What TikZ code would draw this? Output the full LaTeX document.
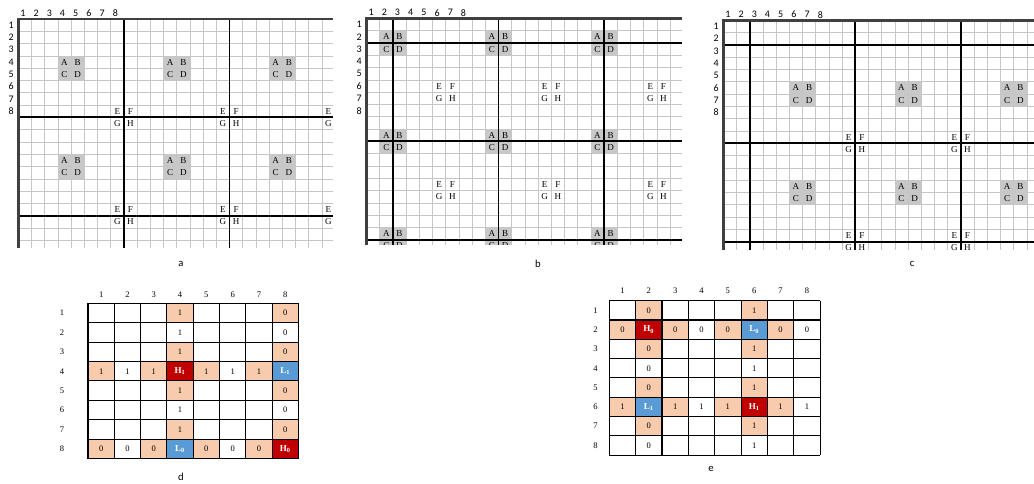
\documentclass[tikz,border=0pt]{standalone}
\usepackage{fontspec}
\setmainfont{Liberation Serif}
\setsansfont{Carlito}
\definecolor{tagshade}{RGB}{200,200,200}
\definecolor{bitpeach}{RGB}{248,203,173}
\definecolor{bithot}{RGB}{192,0,0}
\definecolor{bitcold}{RGB}{91,155,213}
\tikzset{
  finegrid/.style={gray!45, line width=0.5pt},
  heavyline/.style={black, line width=1.4pt},
  frameline/.style={black!75, line width=1.8pt},
  tableline/.style={black, line width=0.8pt},
  tagletter/.style={inner sep=0pt, font=\fontsize{6.8}{7}\selectfont},
  axislabel/.style={inner sep=0pt, font=\sffamily\fontsize{7.5}{8}\selectfont},
  bitlabel/.style={inner sep=0pt, font=\fontsize{6.4}{7}\selectfont},
  hilabel/.style={inner sep=0pt, text=white, font=\bfseries\fontsize{6.8}{7}\selectfont},
  caption/.style={inner sep=0pt, font=\sffamily\fontsize{8}{9}\selectfont},
}
\newcommand{\tagat}[6]{%
  % #1 = node name, #2 = x, #3 = y, #4 = columns shown, #5 = rows shown, #6 = letter
  % (letters lying wholly outside the window are left out)
  \pgfmathsetmacro\tagx{#2}\pgfmathsetmacro\tagy{#3}%
  \pgfmathsetmacro\tagin{(\tagx<#4+0.45)*(\tagy<#5+0.45)}%
  \ifdim\tagin pt>0.5pt
    \node[tagletter] (#1) at (\tagx,\tagy) {#6};
  \fi
}
\newcommand{\gridpanel}[7]{%
  % #1 = panel name, #2 = top-left corner, #3 = columns shown, #4 = rows shown,
  % #5 = first heavy line, #6 = first ABCD cell, #7 = first EFGH cell
  \begin{scope}[shift={#2}, x=9.9pt, y=-9.225pt]
    \begin{scope}
      \clip (-0.3,-0.3) rectangle (#3,#4);
      \foreach \k in {0,1,2}{
        \foreach \l in {0,1,2}{
          \fill[tagshade] ({#6-1+8*\k},{#6-1+8*\l}) rectangle ++(2,2);
        }
      }
      \foreach \i in {1,...,24} \draw[finegrid] (\i,0) -- (\i,#4);
      \foreach \j in {1,...,19} \draw[finegrid] (0,\j) -- (#3,\j);
      \foreach \k in {0,1,2}{
        \draw[heavyline] ({#5+8*\k},0) -- ({#5+8*\k},#4);
        \draw[heavyline] (0,{#5+8*\k}) -- (#3,{#5+8*\k});
      }
      \foreach \k in {0,1,2}{
        \foreach \l in {0,1,2}{
          \foreach \letter/\dx/\dy in {A/0/0,B/1/0,C/0/1,D/1/1}{
            \tagat{#1-\letter-\k-\l}{#6-0.5+8*\k+\dx}{#6-0.5+8*\l+\dy}{#3}{#4}{\letter}
          }
          \foreach \letter/\dx/\dy in {E/0/0,F/1/0,G/0/1,H/1/1}{
            \tagat{#1-\letter-\k-\l}{#7-0.5+8*\k+\dx}{#7-0.5+8*\l+\dy}{#3}{#4}{\letter}
          }
        }
      }
      \draw[frameline] (0,#4) -- (0,0) -- (#3,0);
    \end{scope}
    % numbering of the first tile
    \foreach \n in {1,...,8}{
      \node[axislabel] (#1-col-\n) at (\n-0.65,-0.46) {\n};
      \node[axislabel] (#1-row-\n) at (-0.55,\n-0.5) {\n};
    }
  \end{scope}
}

\begin{document}
\begin{tikzpicture}[x=0.75pt, y=-0.75pt]
\useasboundingbox (0,0) rectangle (1034,483);

% --- panels a, b, c: tiled grids ------------------------------------------
\gridpanel{a}{(18.3,19)}{23.84}{18.6}{8}{4}{8}
\gridpanel{b}{(366.5,18.4)}{23.9}{18.4}{2}{2}{6}
\gridpanel{c}{(723.3,20.3)}{23.55}{18.7}{2}{6}{10}

\node[caption] (cap-a) at (181,264) {a};
\node[caption] (cap-b) at (538,264) {b};
\node[caption] (cap-c) at (912,264) {c};

% --- panel d ---------------------------------------------------------------
\begin{scope}[shift={(88,303.3)}, x=19.725pt, y=-14.55pt]
  \foreach \n in {1,3,5,7}{
    \fill[bitpeach] (3,\n-1) rectangle (4,\n);
    \fill[bitpeach] (7,\n-1) rectangle (8,\n);
    \fill[bitpeach] (\n-1,3) rectangle (\n,4);
    \fill[bitpeach] (\n-1,7) rectangle (\n,8);
  }
  \fill[bithot] (3,3) rectangle (4,4);
  \fill[bithot] (7,7) rectangle (8,8);
  \fill[bitcold] (7,3) rectangle (8,4);
  \fill[bitcold] (3,7) rectangle (4,8);
  \foreach \i in {0,...,8}{
    \draw[tableline] (\i,0) -- (\i,8);
    \draw[tableline] (0,\i) -- (8,\i);
  }
  \foreach \n in {1,2,3,5,6,7}{
    \node[bitlabel] (d-\n-4) at (3.5,\n-0.5) {1};
    \node[bitlabel] (d-\n-8) at (7.5,\n-0.5) {0};
    \node[bitlabel] (d-4-\n) at (\n-0.5,3.5) {1};
    \node[bitlabel] (d-8-\n) at (\n-0.5,7.5) {0};
  }
  \node[hilabel] (d-4-4) at (3.5,3.5) {H\textsubscript{1}};
  \node[hilabel] (d-4-8) at (7.5,3.5) {L\textsubscript{1}};
  \node[hilabel] (d-8-4) at (3.5,7.5) {L\textsubscript{0}};
  \node[hilabel] (d-8-8) at (7.5,7.5) {H\textsubscript{0}};
  \foreach \n in {1,...,8}{
    \node[bitlabel] (d-col-\n) at (\n-0.5,-0.43) {\n};
    \node[bitlabel] (d-row-\n) at (-0.99,\n-0.5) {\n};
  }
\end{scope}
\node[caption] (cap-d) at (181,477) {d};

% --- panel e ---------------------------------------------------------------
\begin{scope}[shift={(609.3,300.7)}, x=19.76pt, y=-14.475pt]
  \foreach \n in {1,3,5,7}{
    \fill[bitpeach] (1,\n-1) rectangle (2,\n);
    \fill[bitpeach] (5,\n-1) rectangle (6,\n);
    \fill[bitpeach] (\n-1,1) rectangle (\n,2);
    \fill[bitpeach] (\n-1,5) rectangle (\n,6);
  }
  \fill[bithot] (1,1) rectangle (2,2);
  \fill[bithot] (5,5) rectangle (6,6);
  \fill[bitcold] (5,1) rectangle (6,2);
  \fill[bitcold] (1,5) rectangle (2,6);
  \foreach \i in {0,...,8}{
    \draw[tableline] (\i,0) -- (\i,8);
    \draw[tableline] (0,\i) -- (8,\i);
  }
  \foreach \n in {1,3,4,5,7,8}{
    \node[bitlabel] (e-\n-2) at (1.5,\n-0.5) {0};
    \node[bitlabel] (e-\n-6) at (5.5,\n-0.5) {1};
    \node[bitlabel] (e-2-\n) at (\n-0.5,1.5) {0};
    \node[bitlabel] (e-6-\n) at (\n-0.5,5.5) {1};
  }
  \node[hilabel] (e-2-2) at (1.5,1.5) {H\textsubscript{0}};
  \node[hilabel] (e-2-6) at (5.5,1.5) {L\textsubscript{0}};
  \node[hilabel] (e-6-2) at (1.5,5.5) {L\textsubscript{1}};
  \node[hilabel] (e-6-6) at (5.5,5.5) {H\textsubscript{1}};
  \foreach \n in {1,...,8}{
    \node[bitlabel] (e-col-\n) at (\n-0.5,-0.5) {\n};
    \node[bitlabel] (e-row-\n) at (-0.52,\n-0.5) {\n};
  }
\end{scope}
\node[caption] (cap-e) at (711,469) {e};

\end{tikzpicture}
\end{document}
